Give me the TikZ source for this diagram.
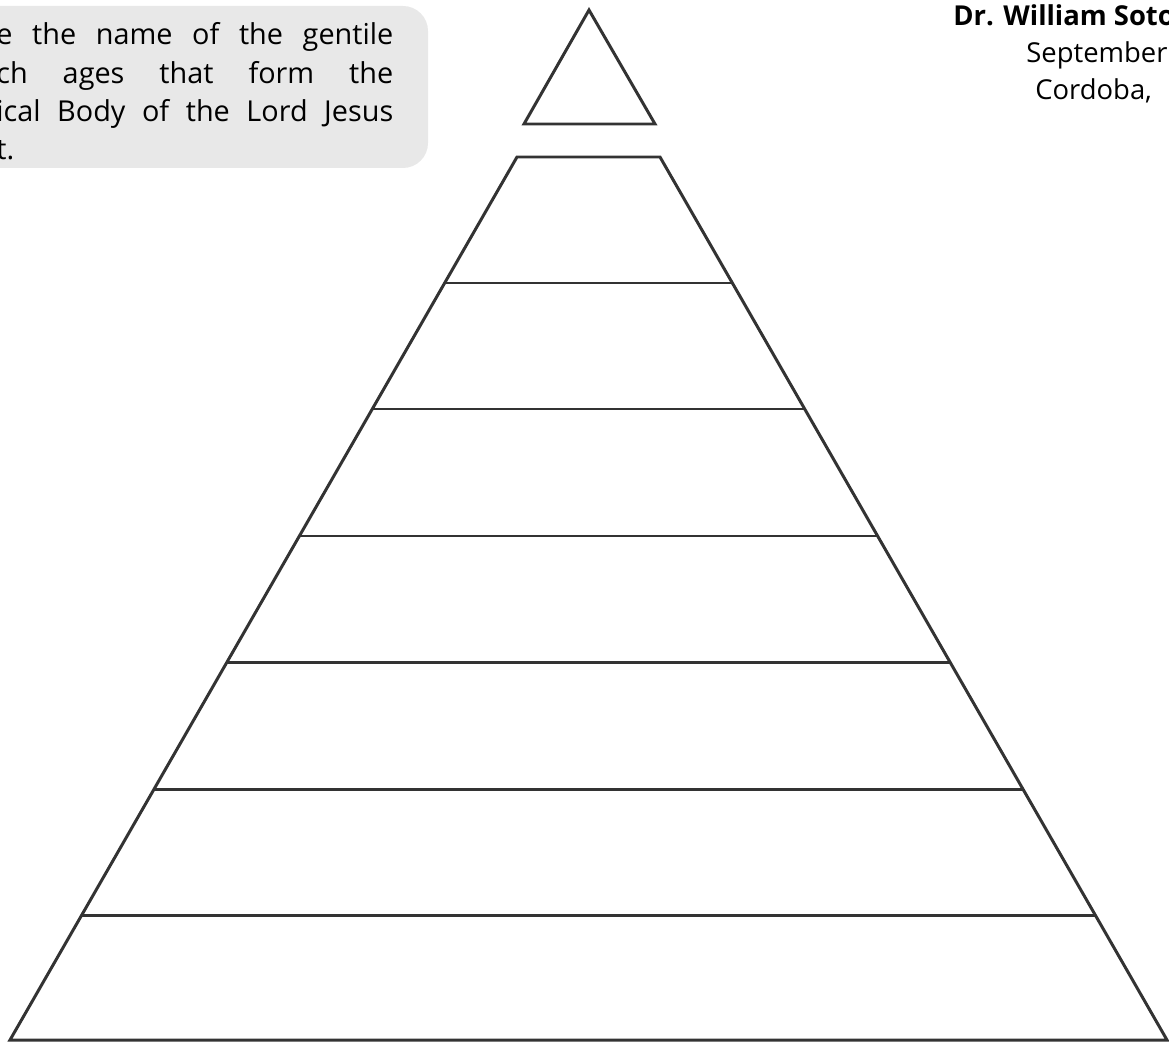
\documentclass[tikz,border=0pt]{standalone}
\usepackage{fontspec}
\setmainfont{Open Sans}
\usetikzlibrary{positioning}
\definecolor{ink}{HTML}{333333}
\definecolor{boxgray}{HTML}{E8E8E8}
\tikzstyle{layer} = [draw=ink, line width=1.7pt, line join=miter]
\tikzstyle{note} = [fill=boxgray, rounded corners=0.5cm]
\tikzstyle{notetext} = [inner sep=0pt, text width=7.94cm, align=justify, font=\fontsize{16.4}{21.8}\selectfont]
\tikzstyle{signature} = [inner sep=0pt, anchor=base west, font=\fontsize{15.6}{21}\selectfont]

\begin{document}
\begin{tikzpicture}[x=0.02cm, y=-0.02cm]

\useasboundingbox (0,0) rectangle (1169,1044);
\clip (0,0) rectangle (1169,1044);

% note box at the top left
\fill [note] (-40,6) rectangle (428,168);
\node (task) [notetext, anchor=base west] at (-4,45) {e the name of the gentile\linebreak ch ages that form the\linebreak ical Body of the Lord Jesus\linebreak t.};

% signature at the top right
\node (author) [signature] at (953,26) {\bfseries Dr. William Soto};
\node (month) [signature] at (1026,63) {September};
\node (place) [signature] at (1035,100) {Cordoba,};

% top of the pyramid
\draw [layer] (589,10) -- (655,124) -- (524,124) -- cycle;

% body of the pyramid
\draw [layer] (517,157) -- (660,157) -- (1167,1040) -- (10,1040) -- cycle;
\draw [layer] (444.6,283) -- (732.4,283);
\draw [layer] (372.3,409) -- (804.7,409);
\draw [layer] (299.4,536) -- (877.6,536);
\draw [layer] (227,662) -- (950,662);
\draw [layer] (154.1,789) -- (1022.9,789);
\draw [layer] (81.8,915) -- (1095.2,915);

\end{tikzpicture}
\end{document}
